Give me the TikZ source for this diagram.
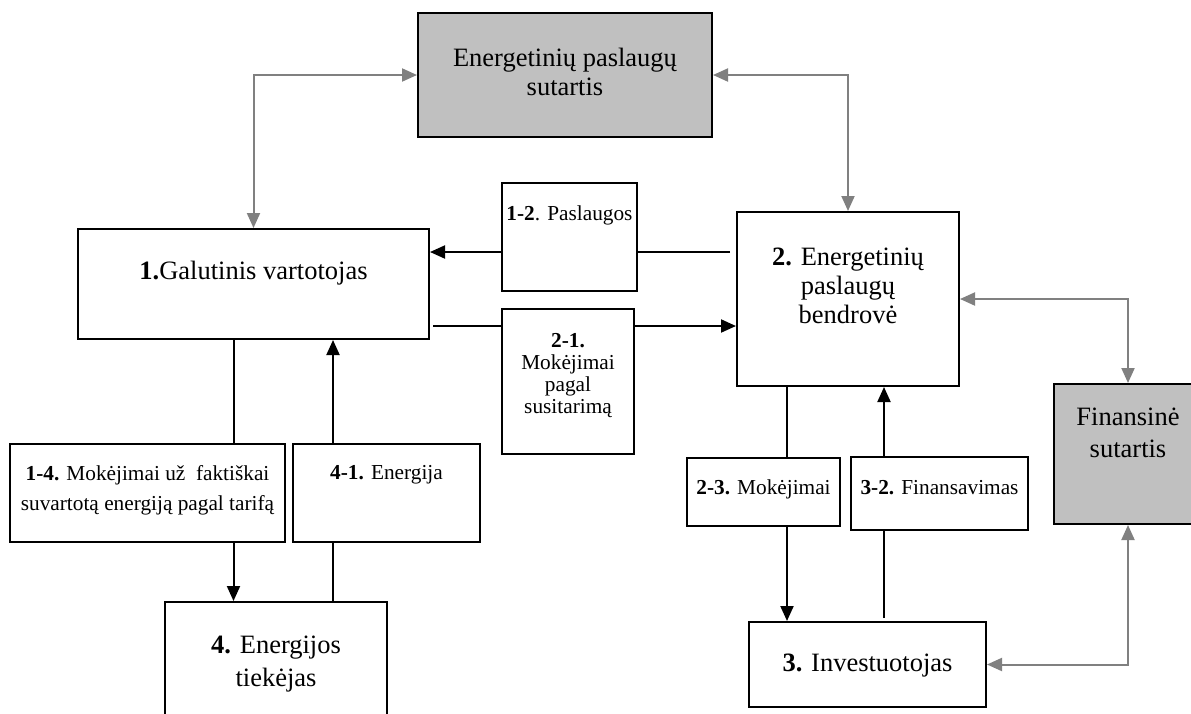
\documentclass[tikz,border=0pt]{standalone}
\usepackage{fontspec}
\setmainfont{Liberation Serif}
\usetikzlibrary{arrows.meta,calc}

\definecolor{ctgray}{RGB}{192,192,192}
\definecolor{lkgray}{RGB}{128,128,128}
\tikzset{
  box/.style={draw=black, line width=2pt, rectangle, inner sep=0pt, fill=white},
  contract/.style={box, fill=ctgray},
  big/.style={align=center, inner sep=0pt, font=\fontsize{26.5}{#1}\selectfont},
  big/.default=30,
  small/.style={align=center, inner sep=0pt, font=\fontsize{21.3}{#1}\selectfont},
  small/.default=22,
  flow/.style={draw=black, line width=2pt},
  flowarrow/.style={flow, -{Triangle[length=15pt,width=13pt]}},
  link/.style={draw=lkgray, line width=2pt, {Triangle[length=15pt,width=13pt]}-{Triangle[length=15pt,width=13pt]}},
}

\begin{document}
\begin{tikzpicture}[x=1pt, y=-1pt]
\clip (0,0) rectangle (1191,713);
\fill[white] (0,0) rectangle (1191,713);

% boxes
\node[contract, minimum width=294pt, minimum height=124pt] (sut) at (565,75) {};
\node[box, minimum width=351pt, minimum height=110pt] (n1) at (253.5,284) {};
\node[box, minimum width=135pt, minimum height=108pt] (b12) at (569.5,237) {};
\node[box, minimum width=132pt, minimum height=145pt] (b21) at (568,381.5) {};
\node[box, minimum width=222pt, minimum height=174pt] (n2) at (848,299) {};
\node[box, minimum width=275pt, minimum height=98pt] (b14) at (147.5,493) {};
\node[box, minimum width=187pt, minimum height=98pt] (b41) at (386.5,493) {};
\node[box, minimum width=222pt, minimum height=160pt] (n4) at (276,682) {};
\node[box, minimum width=153pt, minimum height=68pt] (b23) at (763.5,492) {};
\node[box, minimum width=177pt, minimum height=73pt] (b32) at (939.5,493.5) {};
\node[box, minimum width=237pt, minimum height=85pt] (n3) at (867.5,664.5) {};
% the financing contract runs past the right edge
\node[contract, minimum width=180pt, minimum height=140pt] (fin) at (1144,454) {};

% texts
\node[big=29] (tsut) at (565,71.5) {Energetinių paslaugų\\sutartis};
\node[big] (tn1) at (253.5,273) {\textbf{1.}Galutinis vartotojas};
\node[small] (tb12) at (569.5,215) {\textbf{1-2}. Paslaugos};
\node[small=21.7] (tb21) at (568,375.5) {\textbf{2-1.}\\Mokėjimai\\pagal\\susitarimą};
\node[big=29] (tn2) at (848,286) {\textbf{2.} Energetinių\\paslaugų\\bendrovė};
\node[small=30] (tb14) at (147.5,490) {\textbf{1-4.} Mokėjimai už~ faktiškai\\suvartotą energiją pagal tarifą};
\node[small] (tb41) at (386.5,475) {\textbf{4-1.} Energija};
\node[big=33] (tn4) at (276,664) {\textbf{4.} Energijos\\tiekėjas};
\node[small] (tb23) at (763.5,489) {\textbf{2-3.} Mokėjimai};
\node[small] (tb32) at (939.5,488) {\textbf{3-2.} Finansavimas};
\node[big] (tn3) at (867.5,666) {\textbf{3.} Investuotojas};
\node[big=32] (tfin) at (1128,433) {Finansinė\\sutartis};

% contract links
\coordinate (cfin) at (1128,0);
\draw[link] (n1.north) |- (sut.west);
\draw[link] (sut.east) -| (n2.north);
\draw[link] (n2.east) -| (cfin |- fin.north);
\draw[link] (cfin |- fin.south) |- (n3.east);

% flows between the parties
\coordinate (c12) at (730,252);
\coordinate (c21) at (433,326);
\coordinate (c14) at (233.5,0);
\coordinate (c41) at (333,0);
\coordinate (c23) at (787,0);
\coordinate (c32) at (884,618);

\draw[flow] (c12) -- (c12 -| b12.east);
\draw[flowarrow] (c12 -| b12.west) -- (c12 -| n1.east);

\draw[flow] (c21) -- (c21 -| b21.west);
\draw[flowarrow] (c21 -| b21.east) -- (c21 -| n2.west);

\draw[flow] (c14 |- n1.south) -- (c14 |- b14.north);
\draw[flowarrow] (c14 |- b14.south) -- (c14 |- n4.north);

\draw[flow] (c41 |- n4.north) -- (c41 |- b41.south);
\draw[flowarrow] (c41 |- b41.north) -- (c41 |- n1.south);

\draw[flow] (c23 |- n2.south) -- (c23 |- b23.north);
\draw[flowarrow] (c23 |- b23.south) -- (c23 |- n3.north);

\draw[flow] (c32) -- (c32 |- b32.south);
\draw[flowarrow] (c32 |- b32.north) -- (c32 |- n2.south);
\end{tikzpicture}
\end{document}
